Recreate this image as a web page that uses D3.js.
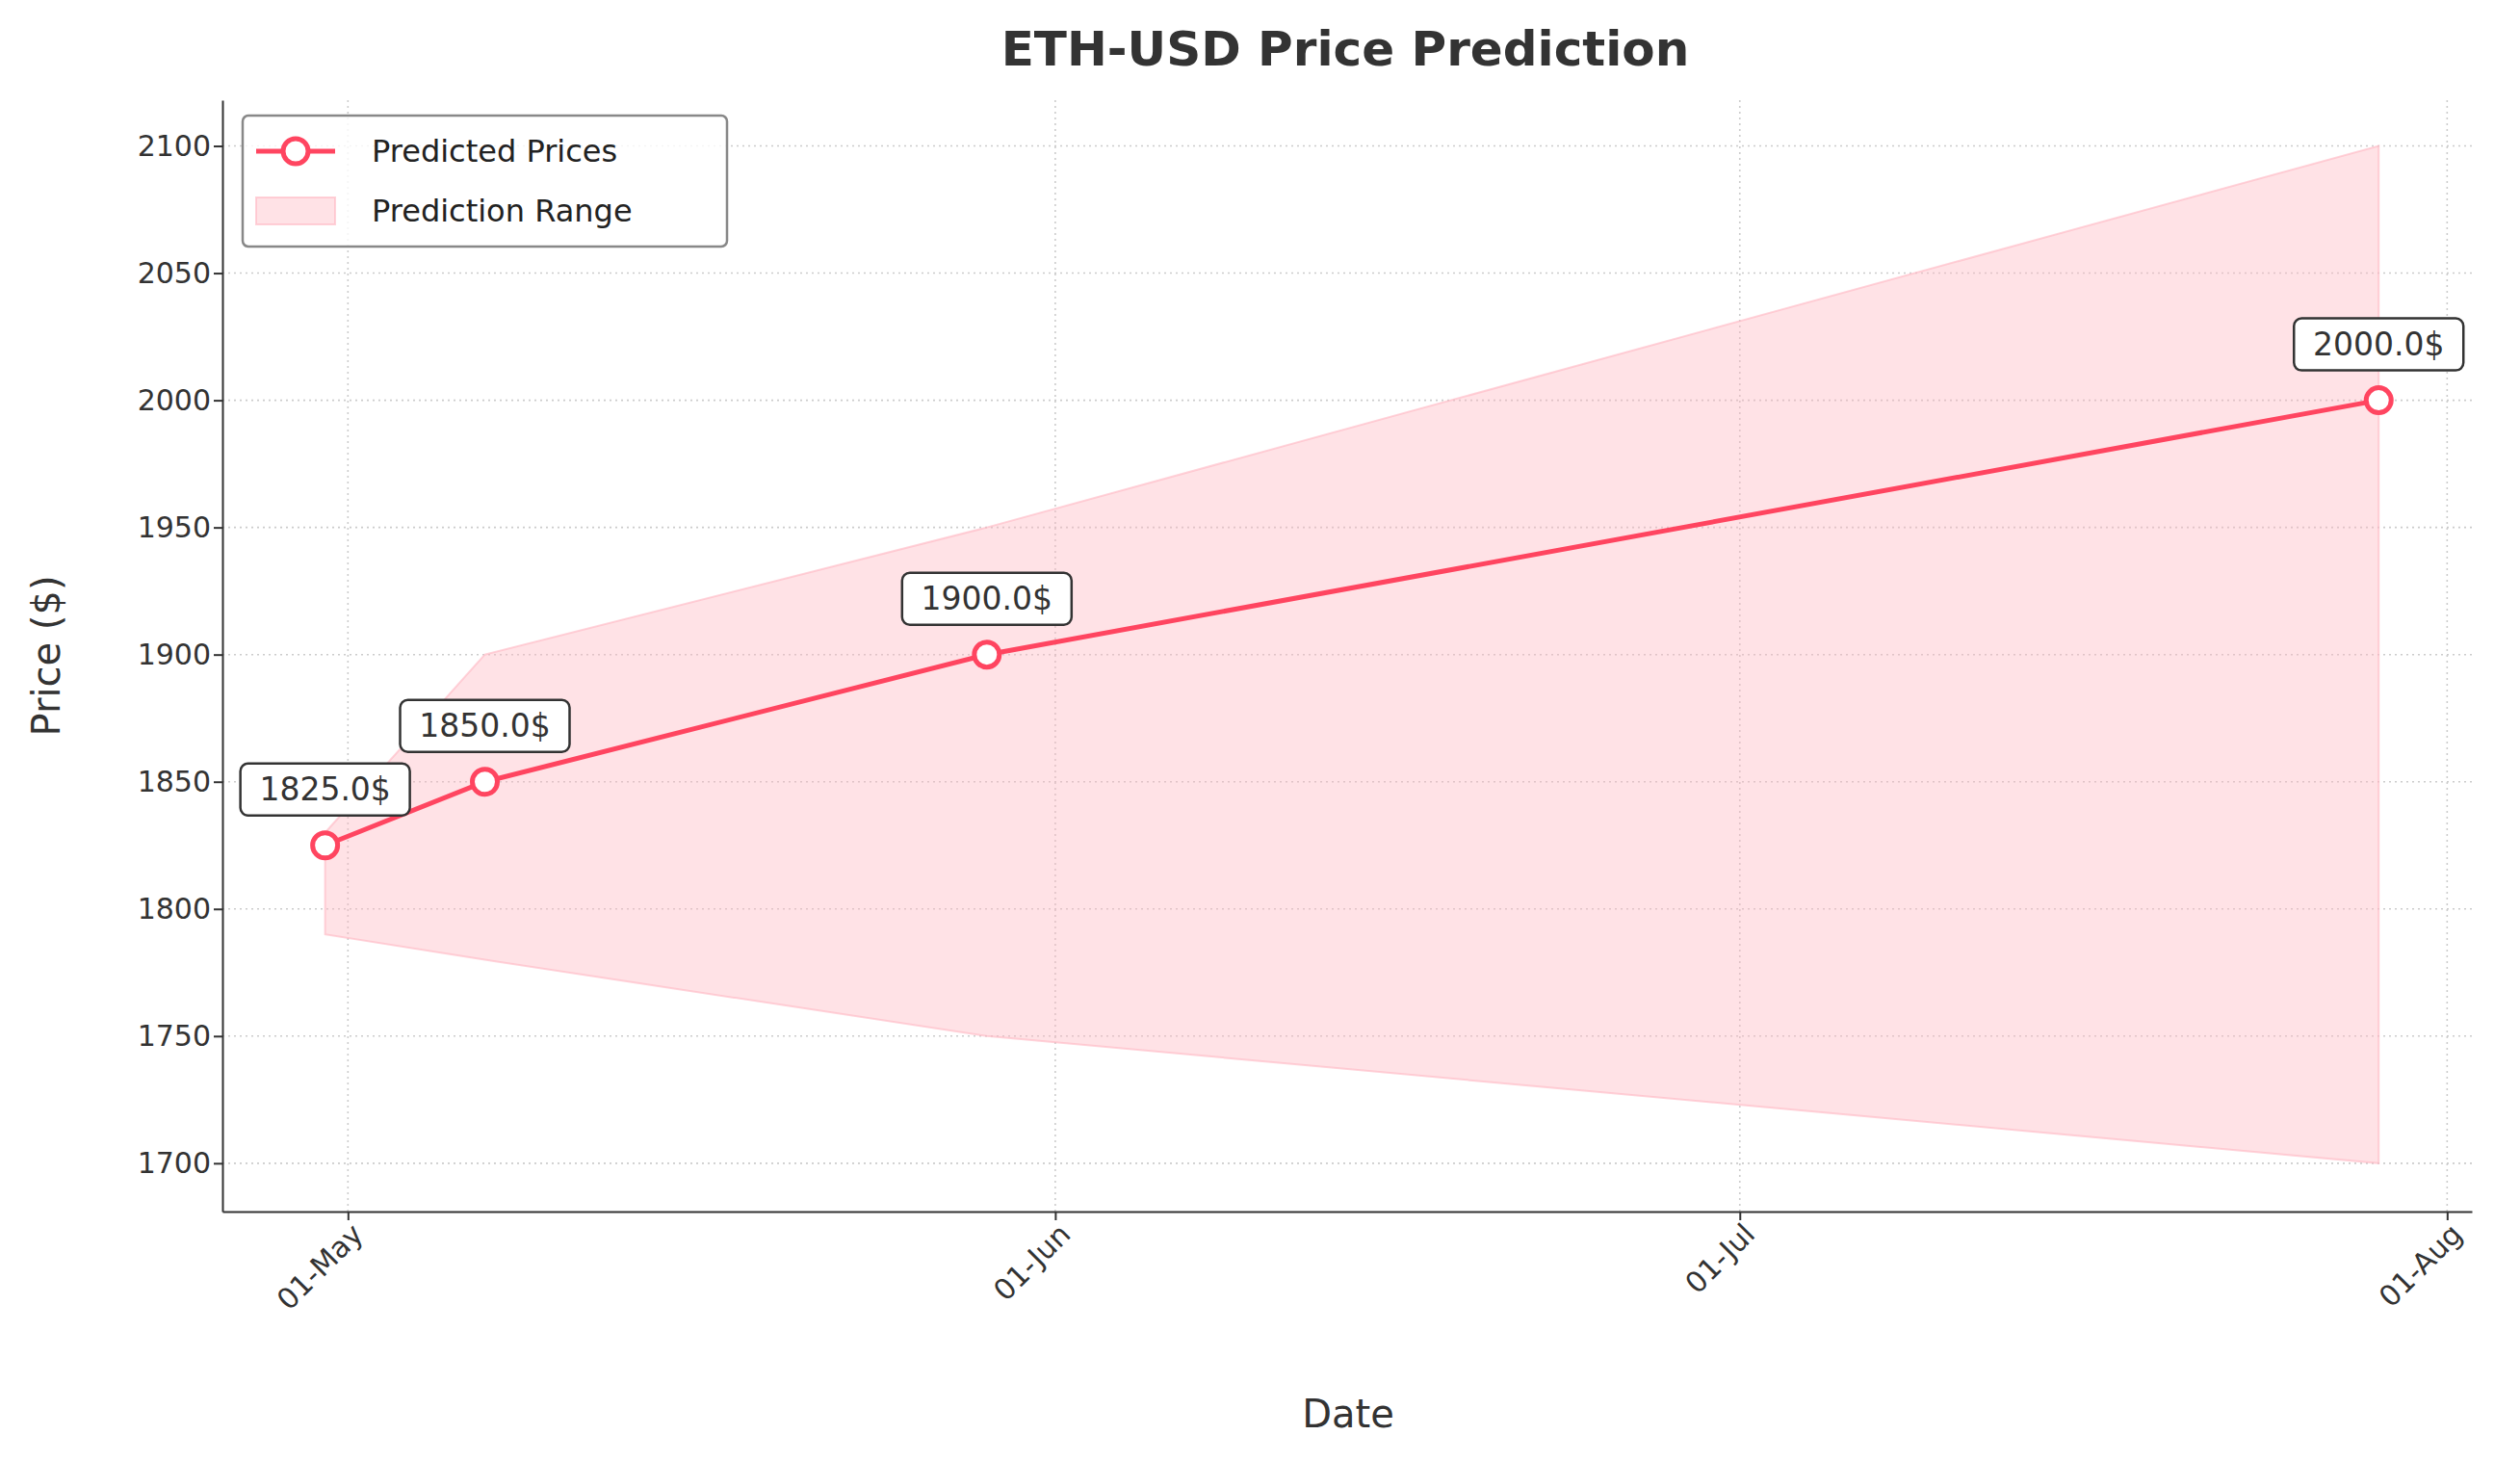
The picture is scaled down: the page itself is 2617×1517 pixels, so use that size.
<!DOCTYPE html>
<html><head><meta charset="utf-8">
<script src="https://cdn.jsdelivr.net/npm/d3@7"></script>
<style>body{margin:0;background:#fff;font-family:"DejaVu Sans",sans-serif;}</style>
</head><body><div id="chart"></div>
<script>
const dates = ["2023-04-30", "2023-05-07", "2023-05-29", "2023-07-29"];
const predicted = [1825, 1850, 1900, 2000];
const lower = [1790, 1780, 1750, 1700];
const upper = [1830, 1900, 1950, 2100];
const yTicks = [1700, 1750, 1800, 1850, 1900, 1950, 2000, 2050, 2100];
const xTicks = ["2023-05-01", "2023-06-01", "2023-07-01", "2023-08-01"];

const W = 2617, H = 1517;
const margin = { top: 104, right: 50, bottom: 259, left: 231 };
const parse = d3.timeParse("%Y-%m-%d");
const data = dates.map((d, i) => ({ date: parse(d), p: predicted[i], lo: lower[i], hi: upper[i] }));

const svg = d3.select("#chart").append("svg").attr("width", W).attr("height", H)
    .style("font-family", "'DejaVu Sans', sans-serif");

const x = d3.scaleTime()
    .domain([new Date(parse("2023-04-25").getTime() + 12 * 3600e3), new Date(parse("2023-08-02").getTime() + 2 * 3600e3)])
    .range([margin.left, W - margin.right]);
const y = d3.scaleLinear().domain([1681, 2118]).range([H - margin.bottom, margin.top]);

// grid
svg.append("g").selectAll("line").data(yTicks).join("line")
    .attr("x1", margin.left).attr("x2", W - margin.right)
    .attr("y1", d => y(d)).attr("y2", d => y(d))
    .attr("stroke", "#ccc").attr("stroke-width", 1.6).attr("stroke-dasharray", "2,4");
svg.append("g").selectAll("line").data(xTicks).join("line")
    .attr("y1", margin.top).attr("y2", H - margin.bottom)
    .attr("x1", d => x(parse(d))).attr("x2", d => x(parse(d)))
    .attr("stroke", "#ccc").attr("stroke-width", 1.6).attr("stroke-dasharray", "2,4");

// range
svg.append("path").datum(data)
    .attr("fill", "#ffb6c1").attr("fill-opacity", 0.4)
    .attr("stroke", "#ffb6c1").attr("stroke-opacity", 0.6).attr("stroke-width", 2)
    .attr("d", d3.area().x(d => x(d.date)).y0(d => y(d.lo)).y1(d => y(d.hi)));

svg.append("path").datum(data)
    .attr("fill", "none").attr("stroke", "#ff4560").attr("stroke-width", 5)
    .attr("d", d3.line().x(d => x(d.date)).y(d => y(d.p)));

svg.append("g").selectAll("circle").data(data).join("circle")
    .attr("cx", d => x(d.date)).attr("cy", d => y(d.p)).attr("r", 13)
    .attr("fill", "#fff").attr("stroke", "#ff4560").attr("stroke-width", 5);

// annotations
const ann = svg.append("g").selectAll("g").data(data).join("g")
    .attr("transform", d => `translate(${x(d.date)},${y(d.p) - 58})`);
ann.append("rect").attr("x", -88).attr("y", -27).attr("width", 176).attr("height", 54)
    .attr("rx", 8).attr("fill", "#fff").attr("stroke", "#333").attr("stroke-width", 2.5);
ann.append("text").attr("text-anchor", "middle").attr("dy", "0.35em")
    .style("font-size", "33px").attr("fill", "#333")
    .text(d => d.p.toFixed(1) + "$");

// axes
const xAxis = svg.append("g").attr("transform", `translate(0,${H - margin.bottom})`)
    .call(d3.axisBottom(x).tickValues(xTicks.map(parse)).tickFormat(d3.timeFormat("%d-%b")).tickSize(9).tickSizeOuter(0));
xAxis.selectAll("text").style("font-size", "30px").style("font-family", "'DejaVu Sans'").attr("fill", "#333")
    .attr("text-anchor", "end").attr("dx", "-0.2em").attr("dy", "0.6em").attr("transform", "rotate(-45)");
const yAxis = svg.append("g").attr("transform", `translate(${margin.left},0)`)
    .call(d3.axisLeft(y).tickValues(yTicks).tickFormat(d3.format("d")).tickSize(9).tickSizeOuter(0));
yAxis.selectAll("text").style("font-size", "30px").style("font-family", "'DejaVu Sans'").attr("fill", "#333");
svg.selectAll(".domain").attr("stroke", "#333").attr("stroke-width", 2);
svg.selectAll(".tick line").attr("stroke", "#333").attr("stroke-width", 2);

// labels
svg.append("text").attr("x", 1397).attr("y", 68).attr("text-anchor", "middle")
    .style("font-size", "50px").attr("font-weight", "bold").attr("fill", "#333").text("ETH-USD Price Prediction");
svg.append("text").attr("x", 1400).attr("y", 1482).attr("text-anchor", "middle")
    .style("font-size", "40px").attr("fill", "#333").text("Date");
svg.append("text").attr("transform", `translate(62,${(margin.top + H - margin.bottom) / 2}) rotate(-90)`)
    .attr("text-anchor", "middle").style("font-size", "40px").attr("fill", "#333").text("Price ($)");

// legend
const lg = svg.append("g").attr("transform", "translate(252,120)");
lg.append("rect").attr("width", 503).attr("height", 136).attr("rx", 6)
    .attr("fill", "#fff").attr("fill-opacity", 0.8).attr("stroke", "#888").attr("stroke-width", 2.5);
lg.append("line").attr("x1", 14).attr("x2", 96).attr("y1", 37).attr("y2", 37).attr("stroke", "#ff4560").attr("stroke-width", 5);
lg.append("circle").attr("cx", 55).attr("cy", 37).attr("r", 13).attr("fill", "#fff").attr("stroke", "#ff4560").attr("stroke-width", 5);
lg.append("rect").attr("x", 14).attr("y", 85).attr("width", 82).attr("height", 28)
    .attr("fill", "#ffb6c1").attr("fill-opacity", 0.4).attr("stroke", "#ffb6c1").attr("stroke-opacity", 0.6).attr("stroke-width", 2);
lg.append("text").attr("x", 134).attr("y", 37).attr("dy", "0.35em").style("font-size", "32px").attr("fill", "#222").text("Predicted Prices");
lg.append("text").attr("x", 134).attr("y", 99).attr("dy", "0.35em").style("font-size", "32px").attr("fill", "#222").text("Prediction Range");
</script></body></html>
